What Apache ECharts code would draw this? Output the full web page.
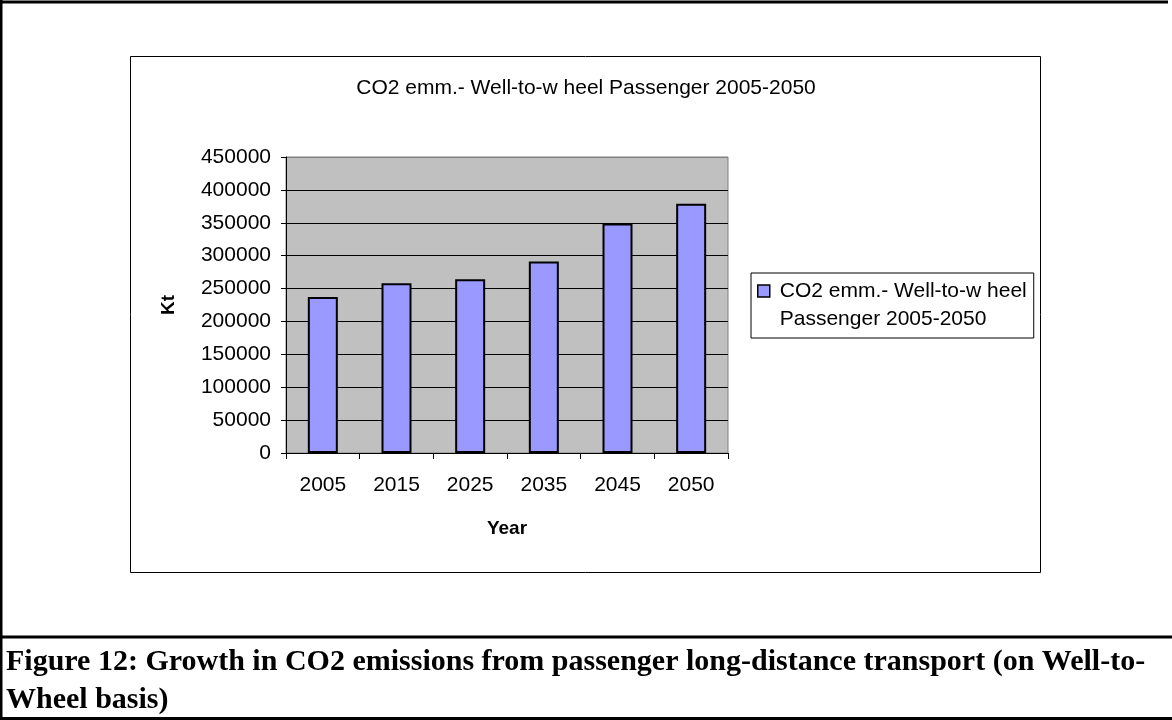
<!DOCTYPE html>
<html>
<head>
<meta charset="utf-8">
<script src="https://cdn.jsdelivr.net/npm/echarts@6/dist/echarts.min.js"></script>
<style>
  html, body { margin: 0; padding: 0; background: #fff; }
  #chart { width: 1172px; height: 720px; }
</style>
</head>
<body>
<div id="chart"></div>
<script>
// Well-to-wheel CO2 emissions of passenger long-distance transport, kt
const years = ['2005', '2015', '2025', '2035', '2045', '2050'];
const emissions = [237000, 258000, 264000, 291000, 349000, 379000];
const seriesName = 'CO2 emm.- Well-to-w heel Passenger 2005-2050';
const legendLines = ['CO2 emm.- Well-to-w heel', 'Passenger 2005-2050'];
const chartTitle = 'CO2 emm.- Well-to-w heel Passenger 2005-2050';
const captionLines = [
  'Figure 12: Growth in CO2 emissions from passenger long-distance transport (on Well-to-',
  'Wheel basis)'
];

const sans = '"Liberation Sans", Arial, sans-serif';
const serif = '"Liberation Serif", "Times New Roman", serif';

const chart = echarts.init(document.getElementById('chart'), null, { renderer: 'canvas' });

// gridlines are black except the top one, which sits on the grey plot border
const gridColors = ['#000', '#000', '#000', '#000', '#000', '#000', '#000', '#000', '#000', '#808080'];

// legend swatch: a small square sitting beside the first text line
// (the extra move-to point widens/heightens the icon box without drawing)
const swatch = 'path://M0,0L12,0L12,12L0,12ZM17,40';

chart.setOption({
  backgroundColor: '#fff',
  animation: false,
  title: {
    text: chartTitle,
    left: 'center',
    top: 73,
    textStyle: { fontFamily: sans, fontSize: 21, fontWeight: 'normal', color: '#000' }
  },
  legend: {
    left: 751,
    top: 273,
    orient: 'vertical',
    padding: [4, 7, 5, 6],
    borderColor: '#000',
    borderWidth: 1,
    backgroundColor: '#fff',
    itemWidth: 17,
    itemHeight: 40,
    itemGap: 0,
    icon: swatch,
    itemStyle: { color: '#9999ff', borderColor: '#000', borderWidth: 1.5 },
    formatter: function () {
      return legendLines.join('\n');
    },
    textStyle: { fontFamily: sans, fontSize: 21, color: '#000', lineHeight: 28 }
  },
  grid: {
    left: 286,
    right: 444,
    top: 157,
    bottom: 267,
    show: true,
    backgroundColor: '#c0c0c0',
    borderColor: '#808080',
    borderWidth: 1
  },
  xAxis: {
    type: 'category',
    data: years,
    name: 'Year',
    nameLocation: 'middle',
    nameGap: 66,
    nameTextStyle: { fontFamily: sans, fontSize: 19, fontWeight: 'bold', color: '#000' },
    axisLine: { lineStyle: { color: '#000', width: 1 } },
    axisTick: { show: true, length: 6, lineStyle: { color: '#000' } },
    axisLabel: { fontFamily: sans, fontSize: 21, color: '#000', margin: 22 }
  },
  yAxis: {
    type: 'value',
    min: 0,
    max: 450000,
    interval: 50000,
    name: 'Kt',
    nameLocation: 'middle',
    nameGap: 108,
    nameRotate: 90,
    nameTextStyle: { fontFamily: sans, fontSize: 19, fontWeight: 'bold', color: '#000' },
    axisLine: { show: true, lineStyle: { color: '#000', width: 1 } },
    axisTick: { show: true, length: 5, lineStyle: { color: '#000' } },
    axisLabel: {
      fontFamily: sans, fontSize: 21, color: '#000', margin: 15,
      formatter: function (v) { return String(v); }
    },
    splitLine: { show: true, lineStyle: { color: gridColors, width: 1 } }
  },
  series: [{
    name: seriesName,
    type: 'bar',
    data: emissions,
    barWidth: 30,
    itemStyle: { color: '#9999ff', borderColor: '#000', borderWidth: 2 }
  }],
  graphic: [
    // outer frame: top and left rules
    { type: 'line', shape: { x1: 0, y1: 2, x2: 1168, y2: 2 }, style: { stroke: '#000', lineWidth: 3 }, z: 10 },
    { type: 'line', shape: { x1: 1, y1: 0, x2: 1, y2: 720 }, style: { stroke: '#000', lineWidth: 3 }, z: 10 },
    // chart area box
    { type: 'rect', shape: { x: 130.5, y: 56.5, width: 910, height: 516 },
      style: { fill: null, stroke: '#000', lineWidth: 1 }, z: -1 },
    // caption rules
    { type: 'line', shape: { x1: 0, y1: 637, x2: 1172, y2: 637 }, style: { stroke: '#000', lineWidth: 3 }, z: 10 },
    { type: 'line', shape: { x1: 0, y1: 718.5, x2: 1172, y2: 718.5 }, style: { stroke: '#000', lineWidth: 3 }, z: 10 },
    // caption text
    { type: 'text', x: 6, y: 662, style: { text: captionLines[0], fontFamily: serif, fontSize: 30, fontWeight: 'bold', fill: '#000', verticalAlign: 'middle' } },
    { type: 'text', x: 6, y: 700, style: { text: captionLines[1], fontFamily: serif, fontSize: 30, fontWeight: 'bold', fill: '#000', verticalAlign: 'middle' } }
  ]
});
</script>
</body>
</html>
